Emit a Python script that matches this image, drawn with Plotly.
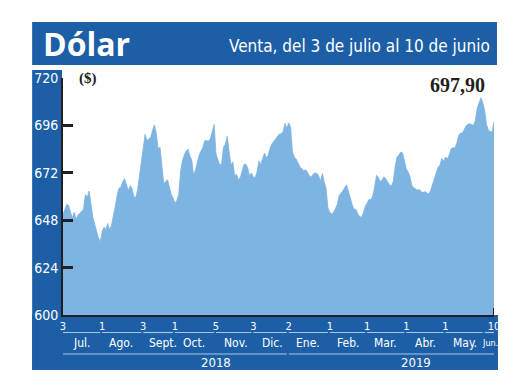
import plotly.graph_objects as go
import pandas as pd

# ---------------- data ----------------
holidays = ["2018-08-15", "2018-09-17", "2018-09-18", "2018-09-19", "2018-10-15",
            "2018-11-01", "2018-11-02", "2018-12-25", "2018-12-31", "2019-01-01",
            "2019-04-19", "2019-05-01", "2019-05-21"]

jul_2018 = [651, 654, 656, 655.5, 652, 649, 652, 648.5, 650.5, 651.5, 652.7, 653.5, 661,
            659.8, 662.8, 655, 649.5, 646, 642.5, 639, 637]
aug_2018 = [642.3, 644.5, 643.3, 646.3, 643.2, 645.5, 649.5, 655, 660.5, 664.2, 664.6,
            667.5, 669, 665.5, 663, 665.5, 664, 660, 659.5, 663.5, 670, 678.5]
sep_2018 = [684.7, 691.5, 688.3, 689.1, 690, 693.6, 696.3, 692, 684, 685, 676.5, 666.5,
            667.5, 668.5, 665, 661, 659.2]
oct_2018 = [656.5, 658, 660.8, 672.5, 678, 681, 683, 684, 680.5, 678.5, 670.6, 673.5,
            677.5, 681, 683, 685, 688.3, 688, 688, 689.2, 692.5, 696.5]
nov_2018 = [681.5, 679, 676, 676.5, 685, 686.5, 690.5, 683, 676, 677.5, 670.5, 671.2,
            668.5, 669.5, 673.5, 676.2, 676.3, 674.5, 670.5, 671.9]
dec_2018 = [669.9, 669.5, 672.5, 678, 676.2, 679.7, 682, 679.5, 681, 684.5, 686.7, 687.9,
            689.2, 690.7, 691.7, 691.7, 693, 697, 694.5]
jan_2019 = [697.3, 695, 682.5, 680, 678.9, 676.7, 675, 674, 673.1, 673.5, 672.4, 670.5,
            669.8, 671.3, 671.9, 671.8, 670.5, 667.8, 671.7, 667.4, 664, 654.2]
feb_2019 = [651.9, 651.2, 652, 653.8, 656, 660.5, 661.4, 662.8, 664.6, 665.8, 662.5, 658.9,
            655.8, 653.6, 653.4, 651.2, 649.8, 649.5, 651.7, 655]
mar_2019 = [656.9, 658.5, 658.4, 660.2, 664.7, 670.7, 669.8, 667.5, 668.5, 669.9, 669, 667,
            665.8, 665.4, 667.5, 675, 680, 681, 682.5, 682, 677.8]
apr_2019 = [674, 672.4, 670, 665.5, 664.4, 663.9, 663.2, 663.5, 662.4, 662, 662.5, 661.8,
            661.3, 663, 666.2, 669.5, 672.5, 674.8, 675.8, 679.3, 677.8]
may_2019 = [680, 679, 681, 684.1, 684.7, 684.5, 686.8, 690.7, 692.1, 692, 693.9, 695.7,
            696.5, 696.8, 696.5, 695.9, 698.5, 704.5, 707.5, 710, 707.5]
jun_2019 = [703.5, 696.5, 693.5, 692.9, 692.7, 697.9]

month_keys = ["2018-07", "2018-08", "2018-09", "2018-10", "2018-11", "2018-12",
              "2019-01", "2019-02", "2019-03", "2019-04", "2019-05", "2019-06"]
month_names = ["Jul.", "Ago.", "Sept.", "Oct.", "Nov.", "Dic.",
               "Ene.", "Feb.", "Mar.", "Abr.", "May.", "Jun."]
month_values = [jul_2018, aug_2018, sep_2018, oct_2018, nov_2018, dec_2018,
                jan_2019, feb_2019, mar_2019, apr_2019, may_2019, jun_2019]

tick_dates = ["2018-07-03", "2018-08-01", "2018-09-03", "2018-10-01", "2018-11-05",
              "2018-12-03", "2019-01-02", "2019-02-01", "2019-03-01", "2019-04-01",
              "2019-05-02", "2019-06-10"]
tick_text = ["3", "1", "3", "1", "5", "3", "2", "1", "1", "1", "1", "10"]

years = ["2018", "2019"]
year_label_dates = ["2018-11-05", "2019-04-08"]

y_ticks = [600, 624, 648, 672, 696, 720]
last_label = "697,90"

# ---------------- build series ----------------
all_days = [d for d in pd.bdate_range("2018-07-03", "2019-06-10")
            if d.strftime("%Y-%m-%d") not in holidays]
dates, values, month_days = [], [], []
for key, vals in zip(month_keys, month_values):
    days = [d for d in all_days if d.strftime("%Y-%m") == key]
    assert len(days) == len(vals), (key, len(days), len(vals))
    month_days.append(days)
    dates += [d.strftime("%Y-%m-%d") for d in days]
    values += vals

# ---------------- layout geometry (page pixels; body has 8px margin) ----------------
OFF = 8
W, H = 504, 374
L, R, T, B = 55, 16, 70, 67
PW, PH = W - L - R, H - T - B

def px(x):
    return (x - OFF - L) / PW

def py(y):
    return (H - B - (y - OFF)) / PH

BAND = "#1d5fa7"
FILL = "#7db4e1"
DARK = "#231f20"
SEP = "#a9c7e7"
NARROW = "Liberation Sans Narrow, DejaVu Sans Condensed, Arial Narrow, sans-serif"

fig = go.Figure()
fig.add_trace(go.Scatter(
    x=dates, y=values, mode="lines", fill="tozeroy",
    fillcolor=FILL, line=dict(color=FILL, width=0.8),
    hoverinfo="skip", showlegend=False))

shapes = [
    dict(type="rect", xref="paper", yref="paper", x0=px(32), x1=px(499), y0=py(65), y1=py(22),
         fillcolor=BAND, line=dict(width=0), layer="below"),
    dict(type="rect", xref="paper", yref="paper", x0=px(32), x1=px(62), y0=py(370), y1=py(70),
         fillcolor=BAND, line=dict(width=0), layer="below"),
    dict(type="rect", xref="paper", yref="paper", x0=px(32), x1=px(500), y0=py(370), y1=py(315),
         fillcolor=BAND, line=dict(width=0), layer="below"),
]
annotations = []

for name, days in zip(month_names, month_days):
    x0, x1 = days[0].strftime("%Y-%m-%d"), days[-1].strftime("%Y-%m-%d")
    shapes.append(dict(type="line", xref="x", yref="paper", x0=x0, x1=x1,
                       y0=py(332.5), y1=py(332.5), line=dict(color=SEP, width=1.2)))
    mid = days[len(days) // 2].strftime("%Y-%m-%d") if name == "Jun." else \
        (days[0] + (days[-1] - days[0]) / 2).strftime("%Y-%m-%d %H:%M")
    annotations.append(dict(x=mid, y=py(343), xref="x", yref="paper", text=name,
                            showarrow=False, xanchor="center", yanchor="middle",
                            font=dict(family=NARROW, size=9 if name == "Jun." else 12,
                                      color="white")))

year_groups = [[d for days in month_days for d in days if d.year == 2018],
               [d for days in month_days for d in days if d.year == 2019]]
for yr, grp, lab_date in zip(years, year_groups, year_label_dates):
    shapes.append(dict(type="line", xref="x", yref="paper",
                       x0=grp[0].strftime("%Y-%m-%d"), x1=grp[-1].strftime("%Y-%m-%d"),
                       y0=py(354), y1=py(354), line=dict(color=SEP, width=1.2)))
    annotations.append(dict(x=lab_date, y=py(362), xref="x", yref="paper", text=yr,
                            showarrow=False, xanchor="center", yanchor="middle",
                            font=dict(family=NARROW, size=13, color="white")))

shapes.append(dict(type="line", xref="x", yref="paper", x0=dates[-1], x1=dates[-1],
                   y0=0, y1=py(308), line=dict(color=DARK, width=2)))

annotations += [
    dict(x=px(41), y=py(44), xref="paper", yref="paper", text="<b>Dólar</b>",
         showarrow=False, xanchor="left", yanchor="middle",
         font=dict(family="Open Sans, sans-serif", size=32, color="white")),
    dict(x=px(494), y=py(46), xref="paper", yref="paper",
         text="Venta, del 3 de julio al 10 de junio",
         showarrow=False, xanchor="right", yanchor="middle",
         font=dict(family=NARROW, size=17, color="white")),
    dict(x=px(77), y=720, xref="paper", yref="y", text="<b>($)</b>",
         showarrow=False, xanchor="left", yanchor="middle",
         font=dict(family="Liberation Serif, serif", size=15, color=DARK)),
    dict(x=px(489), y=py(85), xref="paper", yref="paper", text="<b>" + last_label + "</b>",
         showarrow=False, xanchor="right", yanchor="middle",
         font=dict(family="Liberation Serif, serif", size=20, color=DARK)),
]

fig.update_layout(
    width=W, height=H,
    margin=dict(l=L, r=R, t=T, b=B, pad=0),
    paper_bgcolor="white", plot_bgcolor="white",
    shapes=shapes, annotations=annotations,
    showlegend=False,
    xaxis=dict(type="date", range=[dates[0], dates[-1]],
               rangebreaks=[dict(bounds=["sat", "mon"]), dict(values=holidays)],
               tickmode="array", tickvals=tick_dates, ticktext=tick_text,
               tickfont=dict(family=NARROW, size=11, color="white"),
               ticks="", showgrid=False, zeroline=False,
               showline=True, linecolor=DARK, linewidth=1.5),
    yaxis=dict(range=[600, 720], tickmode="array", tickvals=y_ticks,
               tickfont=dict(family=NARROW, size=14, color="white"),
               ticks="inside", ticklen=10, tickwidth=2.5, tickcolor=DARK,
               showgrid=False, zeroline=False,
               showline=True, linecolor=DARK, linewidth=2),
)

fig.write_html("out.html")
